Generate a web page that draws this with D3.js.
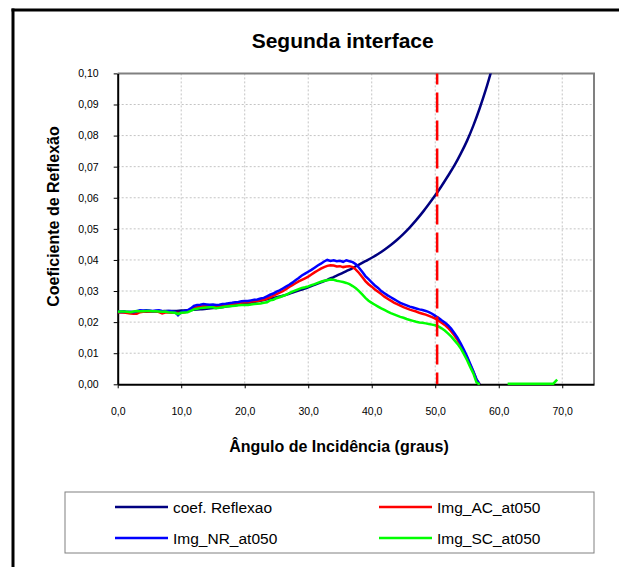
<!DOCTYPE html>
<html>
<head>
<meta charset="utf-8">
<script src="https://d3js.org/d3.v7.min.js"></script>
<title>Segunda interface</title>
<style>
  body { margin: 0; background: #fff; overflow: hidden; }
  svg { display: block; font-family: Arial, "Liberation Sans", sans-serif; }
  .tick text { font-size: 10.5px; fill: #000; }
</style>
</head>
<body>
<svg id="chart" width="619" height="567"></svg>
<script>
// theoretical curve, 1 degree steps
const coefAngles = [0,1,2,3,4,5,6,7,8,9,
  10,11,12,13,14,15,16,17,18,19,
  20,21,22,23,24,25,26,27,28,29,
  30,31,32,33,34,35,36,37,38,39,
  40,41,42,43,44,45,46,47,48,49,
  50,51,52,53,54,55,56,57,58,59];
const coefValues = [.0232,.0232,.0232,.0233,.0233,.0234,.0234,.0235,.0236,.0236,
  .0237,.0238,.0240,.0241,.0243,.0245,.0247,.0250,.0253,.0256,
  .0259,.0263,.0267,.0271,.0275,.0280,.0285,.0291,.0298,.0305,
  .0312,.0320,.0328,.0336,.0345,.0354,.0364,.0374,.0385,.0396,
  .0407,.0419,.0433,.0448,.0465,.0484,.0505,.0528,.0553,.0580,
  .0608,.0638,.0670,.0703,.0741,.0783,.0832,.0888,.0950,.1020];

// measured curves, 0.5 degree steps
const angles = [0,0.5,1,1.5,2,2.5,3,3.5,4,4.5,
  5,5.5,6,6.5,7,7.5,8,8.5,9,9.5,
  10,10.5,11,11.5,12,12.5,13,13.5,14,14.5,
  15,15.5,16,16.5,17,17.5,18,18.5,19,19.5,
  20,20.5,21,21.5,22,22.5,23,23.5,24,24.5,
  25,25.5,26,26.5,27,27.5,28,28.5,29,29.5,
  30,30.5,31,31.5,32,32.5,33,33.5,34,34.5,
  35,35.5,36,36.5,37,37.5,38,38.5,39,39.5,
  40,40.5,41,41.5,42,42.5,43,43.5,44,44.5,
  45,45.5,46,46.5,47,47.5,48,48.5,49,49.5,
  50,50.5,51,51.5,52,52.5,53,53.5,54,54.5,
  55,55.5,56,56.5,57];
const acValues = [.0232,.0232,.0231,.0229,.0228,.0227,.0227,.0232,.0233,.0234,
  .0234,.0235,.0235,.0232,.0228,.0231,.0231,.0230,.0230,.0229,
  .0230,.0232,.0234,.0239,.0245,.0248,.0250,.0251,.0252,.0252,
  .0252,.0250,.0251,.0253,.0255,.0257,.0258,.0260,.0261,.0263,
  .0264,.0264,.0266,.0267,.0268,.0270,.0272,.0276,.0280,.0285,
  .0290,.0295,.0300,.0306,.0313,.0319,.0325,.0331,.0336,.0341,
  .0346,.0353,.0360,.0366,.0372,.0377,.0381,.0383,.0382,.0379,
  .0380,.0377,.0379,.0380,.0377,.0369,.0358,.0345,.0332,.0322,
  .0314,.0305,.0298,.0290,.0282,.0275,.0269,.0263,.0258,.0253,
  .0248,.0244,.0240,.0237,.0234,.0230,.0227,.0224,.0220,.0216,
  .0211,.0205,.0198,.0191,.0182,.0171,.0158,.0143,.0126,.0107,
  .0086,.0063,.0040,.0015,.0000];
const nrValues = [.0233,.0234,.0235,.0233,.0233,.0232,.0235,.0238,.0237,.0238,
  .0237,.0236,.0237,.0238,.0236,.0235,.0236,.0235,.0233,.0222,
  .0232,.0236,.0238,.0244,.0252,.0255,.0256,.0258,.0257,.0256,
  .0257,.0255,.0256,.0258,.0259,.0261,.0262,.0264,.0265,.0267,
  .0268,.0268,.0270,.0272,.0273,.0276,.0278,.0283,.0288,.0292,
  .0298,.0302,.0308,.0314,.0320,.0327,.0335,.0342,.0350,.0356,
  .0362,.0368,.0375,.0382,.0388,.0395,.0400,.0397,.0399,.0396,
  .0397,.0394,.0399,.0396,.0393,.0386,.0375,.0362,.0348,.0338,
  .0328,.0318,.0310,.0300,.0293,.0286,.0280,.0274,.0268,.0262,
  .0258,.0254,.0250,.0247,.0244,.0241,.0239,.0236,.0232,.0227,
  .0220,.0214,.0206,.0199,.0190,.0179,.0165,.0150,.0132,.0112,
  .0090,.0066,.0042,.0016,.0000];
const scValues = [.0233,.0234,.0234,.0233,.0232,.0234,.0236,.0235,.0235,.0236,
  .0236,.0235,.0235,.0234,.0233,.0234,.0232,.0231,.0230,.0226,
  .0230,.0231,.0232,.0236,.0241,.0243,.0245,.0246,.0247,.0248,
  .0248,.0245,.0246,.0248,.0250,.0251,.0252,.0253,.0254,.0255,
  .0255,.0255,.0257,.0258,.0259,.0260,.0262,.0264,.0270,.0272,
  .0277,.0280,.0284,.0288,.0293,.0298,.0302,.0306,.0310,.0312,
  .0315,.0319,.0322,.0326,.0330,.0333,.0335,.0337,.0336,.0333,
  .0331,.0329,.0326,.0322,.0316,.0309,.0300,.0289,.0278,.0269,
  .0262,.0256,.0250,.0244,.0239,.0234,.0229,.0225,.0221,.0217,
  .0214,.0210,.0207,.0204,.0201,.0199,.0198,.0196,.0194,.0192,
  .0190,.0186,.0180,.0173,.0164,.0154,.0142,.0130,.0116,.0098,
  .0078,.0056,.0035,.0006,.0000];
const scTailAngles = [61.4, 64, 66, 68.6, 69.2];
const scTailValues = [.0002, .0002, .0002, .0002, .0015];

const criticalAngle = 50.3;
const xTicks = [0, 10, 20, 30, 40, 50, 60, 70];
const yTicks = [0, 0.01, 0.02, 0.03, 0.04, 0.05, 0.06, 0.07, 0.08, 0.09, 0.10];

const seriesNames = ["coef. Reflexao", "Img_AC_at050", "Img_NR_at050", "Img_SC_at050"];
const seriesColors = ["#000080", "#ff0000", "#0000ff", "#00ff00"];

const svg = d3.select("#chart");

// outer frame: left and top edges only reach into the picture
svg.append("line").attr("x1", 13).attr("x2", 13).attr("y1", 8.5).attr("y2", 567)
  .attr("stroke", "#000").attr("stroke-width", 3);
svg.append("line").attr("x1", 11.5).attr("x2", 619).attr("y1", 10).attr("y2", 10)
  .attr("stroke", "#000").attr("stroke-width", 3);

const plotLeft = 117.7, plotRight = 594, plotTop = 73.4, plotBottom = 384.3;
const x = d3.scaleLinear().domain([0, 75]).range([plotLeft, plotRight]);
const y = d3.scaleLinear().domain([0, 0.1]).range([plotBottom, plotTop]);

// gridlines
svg.append("g").selectAll("line")
  .data(xTicks.filter(d => d > 0))
  .join("line")
  .attr("x1", d => x(d)).attr("x2", d => x(d))
  .attr("y1", plotTop).attr("y2", plotBottom)
  .attr("stroke", "#c4c4c4").attr("stroke-dasharray", "2,2");
svg.append("g").selectAll("line")
  .data(yTicks.filter(d => d > 0 && d < 0.1))
  .join("line")
  .attr("x1", plotLeft).attr("x2", plotRight)
  .attr("y1", d => y(d)).attr("y2", d => y(d))
  .attr("stroke", "#c4c4c4").attr("stroke-dasharray", "2,2");

// grey border top / right
svg.append("path")
  .attr("d", `M${plotLeft},${plotTop}H${plotRight}V${plotBottom}`)
  .attr("fill", "none").attr("stroke", "#808080").attr("stroke-width", 2);

// axes
const xAxis = d3.axisBottom(x).tickValues(xTicks).tickSize(4).tickSizeOuter(0).tickPadding(19)
  .tickFormat(d => d3.format(".1f")(d).replace(".", ","));
const yAxis = d3.axisLeft(y).tickValues(yTicks).tickSize(4).tickSizeOuter(0).tickPadding(15)
  .tickFormat(d => d3.format(".2f")(d).replace(".", ","));

const gx = svg.append("g").attr("transform", `translate(0,${plotBottom})`).call(xAxis);
const gy = svg.append("g").attr("transform", `translate(${plotLeft},0)`).call(yAxis);
[gx, gy].forEach(g => {
  g.select(".domain").attr("stroke", "#000").attr("stroke-width", 2);
  g.selectAll(".tick line").attr("stroke", "#000");
  g.selectAll(".tick text").attr("font-family", "Arial, 'Liberation Sans', sans-serif");
});

// clip
svg.append("clipPath").attr("id", "plotclip")
  .append("rect").attr("x", plotLeft).attr("y", plotTop)
  .attr("width", plotRight - plotLeft).attr("height", plotBottom - plotTop + 2);

const plot = svg.append("g").attr("clip-path", "url(#plotclip)");

const line = d3.line().x(d => x(d[0])).y(d => y(d[1]));
const smooth = d3.line().x(d => x(d[0])).y(d => y(d[1])).curve(d3.curveMonotoneX);

const zip = (a, b) => a.map((v, i) => [v, b[i]]);

plot.append("path").datum(zip(coefAngles, coefValues))
  .attr("d", smooth).attr("fill", "none").attr("stroke", seriesColors[0]).attr("stroke-width", 2.5);
plot.append("path").datum(zip(angles, acValues))
  .attr("d", line).attr("fill", "none").attr("stroke", seriesColors[1]).attr("stroke-width", 2.5);
plot.append("path").datum(zip(angles, nrValues))
  .attr("d", line).attr("fill", "none").attr("stroke", seriesColors[2]).attr("stroke-width", 2.5);
plot.append("path").datum(zip(angles, scValues))
  .attr("d", line).attr("fill", "none").attr("stroke", seriesColors[3]).attr("stroke-width", 2.5);
plot.append("path").datum(zip(scTailAngles, scTailValues))
  .attr("d", line).attr("fill", "none").attr("stroke", seriesColors[3]).attr("stroke-width", 2.5);

// critical angle marker
svg.append("line")
  .attr("x1", x(criticalAngle)).attr("x2", x(criticalAngle))
  .attr("y1", plotTop).attr("y2", plotBottom)
  .attr("stroke", "#ff0000").attr("stroke-width", 2.5)
  .attr("stroke-dasharray", "20,8").attr("stroke-dashoffset", 9);

// titles
svg.append("text").attr("x", 342.7).attr("y", 48)
  .attr("text-anchor", "middle").attr("font-size", 21).attr("font-weight", "bold")
  .text("Segunda interface");
svg.append("text").attr("x", 339).attr("y", 452)
  .attr("text-anchor", "middle").attr("font-size", 16).attr("font-weight", "bold")
  .text("Ângulo de Incidência (graus)");
svg.append("text").attr("transform", "translate(59,216.5) rotate(-90)")
  .attr("text-anchor", "middle").attr("font-size", 16).attr("font-weight", "bold")
  .text("Coeficiente de Reflexão");

// legend
const legend = svg.append("g");
legend.append("rect").attr("x", 65).attr("y", 492).attr("width", 529).attr("height", 61)
  .attr("fill", "#fff").attr("stroke", "#808080");
const legX = [115, 379], legY = [507, 538];
seriesNames.forEach((name, i) => {
  const cx = legX[i % 2], cy = legY[Math.floor(i / 2)];
  legend.append("line").attr("x1", cx).attr("x2", cx + 53).attr("y1", cy).attr("y2", cy)
    .attr("stroke", seriesColors[i]).attr("stroke-width", 2.5);
  legend.append("text").attr("x", cx + 58).attr("y", cy + 5.5)
    .attr("font-size", 15.5).text(name);
});

// keep the right margin blank below the frame's top edge
svg.append("rect").attr("x", 600).attr("y", 12).attr("width", 19).attr("height", 555).attr("fill", "#fff");
</script>
</body>
</html>
